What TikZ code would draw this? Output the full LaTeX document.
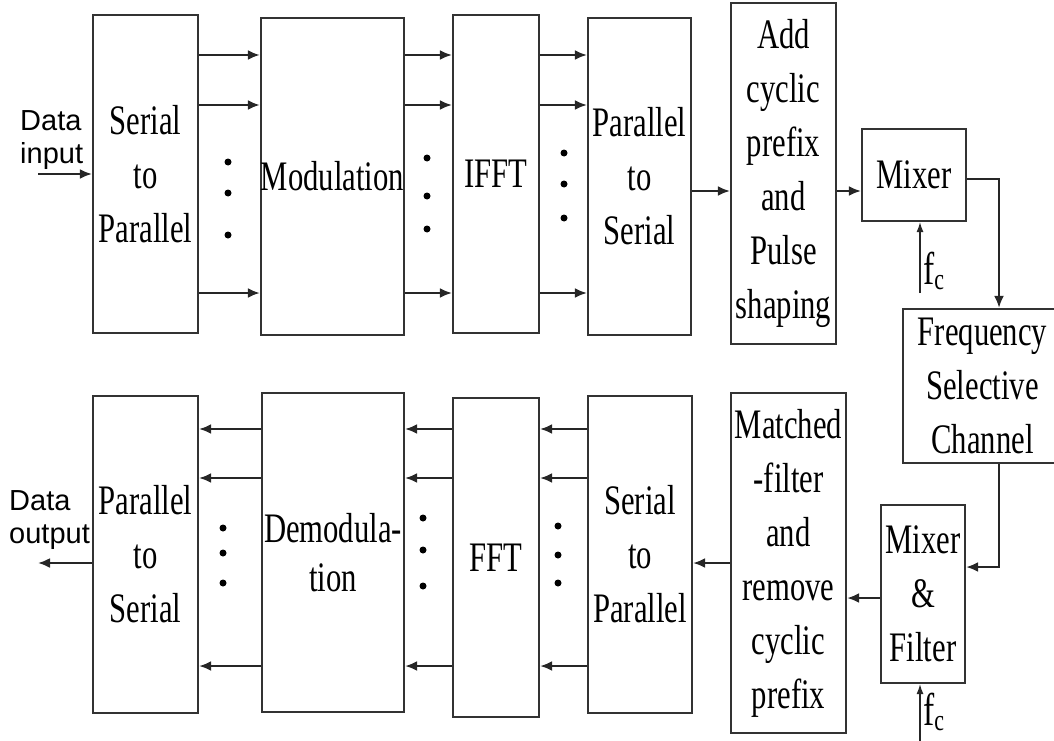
\documentclass[tikz,border=0pt]{standalone}
\usepackage{fontspec}
\setmainfont{Liberation Serif}[FakeStretch=0.73]
\newfontfamily\sansfont{Liberation Sans}
\usetikzlibrary{arrows.meta}

\begin{document}
\begin{tikzpicture}[x=1pt, y=-1pt, every node/.style={inner sep=0pt},
	blk/.style={draw=black!80, line width=2.2pt, align=center, font=\fontsize{42}{54}\selectfont},
	arr/.style={draw=black!85, line width=2.2pt, -{Latex[length=12pt, width=10pt]}},
	farr/.style={draw=black!85, line width=1.2pt, -{Latex[length=10pt, width=7pt]}},
	io/.style={align=left, font=\sansfont\fontsize{29}{33}\selectfont},
	fc/.style={font=\fontsize{46}{46}\selectfont}]
	\useasboundingbox (0,0) rectangle (1054,741);
	\clip (0,0) rectangle (1054,741);
	% transmitter
	\node[blk, minimum width=105pt, minimum height=318pt] (sp) at (145.5,174) {Serial\\to\\Parallel};
	\node[blk, minimum width=141pt, minimum height=317pt] (mod) at (332.5,176.5) {Modulation};
	\node[blk, minimum width=86pt, minimum height=318pt] (ifft) at (496,174) {IFFT};
	\node[blk, minimum width=103pt, minimum height=317pt] (ps) at (639.5,176.5) {Parallel\\to\\Serial};
	\node[blk, minimum width=105pt, minimum height=341pt] (cp) at (783.5,173.5) {Add\\cyclic\\prefix\\and\\Pulse\\shaping};
	\node[blk, minimum width=104pt, minimum height=92pt] (mix) at (914,175) {Mixer};
	\node[blk, minimum width=159pt, minimum height=154pt] (fsc) at (982.5,386) {Frequency\\Selective\\Channel};
	% receiver
	\node[blk, minimum width=84pt, minimum height=178pt] (mf) at (923,594) {Mixer\\\&\\Filter};
	\node[blk, minimum width=115pt, minimum height=340pt] (mat) at (788.5,563) {Matched\\-filter\\and\\remove\\cyclic\\prefix};
	\node[blk, minimum width=104pt, minimum height=317pt] (sp2) at (640,554.5) {Serial\\to\\Parallel};
	\node[blk, minimum width=86pt, minimum height=319pt] (fft) at (496,557.5) {FFT};
	\node[blk, minimum width=142pt, minimum height=319pt, font=\fontsize{42}{49}\selectfont] (dem) at (333,552.5) {Demodula-\\tion};
	\node[blk, minimum width=105pt, minimum height=317pt] (ps2) at (145.5,554.5) {Parallel\\to\\Serial};
	% labels
	\node[io, anchor=north west] (din) at (20,110) {Data\\input};
	\node[io, anchor=north west] (dout) at (9,490) {Data\\output};
	\node[fc, anchor=base west] (fc1) at (923,284) {f\raisebox{-5pt}{\fontsize{30}{30}\selectfont c}};
	\node[fc, anchor=base west] (fc2) at (923,725) {f\raisebox{-5pt}{\fontsize{30}{30}\selectfont c}};
	\coordinate (inp) at (38,174);
	\coordinate (outp) at (38,563);
	\coordinate (ch) at (999,0);
	\coordinate (lo1) at (920,293);
	\coordinate (lo2) at (920,741);
	% connectors
	\draw[arr] (inp) -- (sp.west);
	\foreach \y in {55,105,293} {
		\draw[arr] (sp.east |- 0,\y) -- (mod.west |- 0,\y);
		\draw[arr] (mod.east |- 0,\y) -- (ifft.west |- 0,\y);
		\draw[arr] (ifft.east |- 0,\y) -- (ps.west |- 0,\y);
	}
	\draw[arr] (ps.east |- 0,191) -- (cp.west |- 0,191);
	\draw[arr] (cp.east |- 0,191) -- (mix.west |- 0,191);
	\draw[arr] (mix.east |- 0,179) -| (fsc.north -| ch);
	\draw[arr] (fsc.south -| ch) |- (mf.east |- 0,567);
	\draw[arr] (mf.west |- 0,598) -- (mat.east |- 0,598);
	\draw[arr] (mat.west |- 0,563) -- (sp2.east |- 0,563);
	\foreach \y in {429,478,666} {
		\draw[arr] (sp2.west |- 0,\y) -- (fft.east |- 0,\y);
		\draw[arr] (fft.west |- 0,\y) -- (dem.east |- 0,\y);
		\draw[arr] (dem.west |- 0,\y) -- (ps2.east |- 0,\y);
	}
	\draw[arr] (ps2.west |- outp) -- (outp);
	\draw[farr] (lo1) -- (mix.south -| lo1);
	\draw[farr] (lo2) -- (mf.south -| lo2);
	% dots
	\foreach \x/\y in {228/162, 228/193, 228/235, 427/158, 427/196, 427/229, 564/153, 564/184, 564/218,
		223/528, 223/553, 223/583, 423/518, 423/550, 423/586, 558/526, 558/555, 558/583}
		\fill (\x,\y) circle (3.5pt);
\end{tikzpicture}
\end{document}
